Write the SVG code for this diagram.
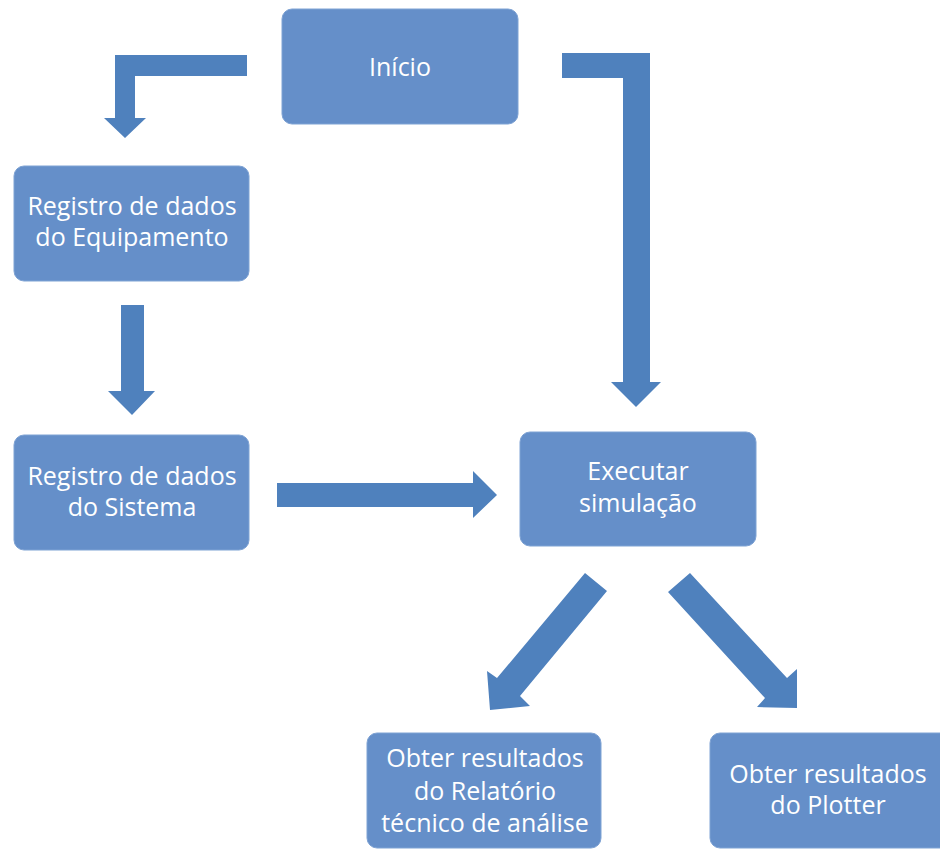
<svg xmlns="http://www.w3.org/2000/svg" width="940" height="849" viewBox="0 0 940 849">
  <style>
    .box { fill: #658FC9; stroke: #7FA3D4; stroke-width: 1; }
    .arrow { fill: #4F81BD; }
    .label { font-family: "Open Sans", "Liberation Sans", sans-serif; font-size: 25px; fill: #FFFFFF; text-anchor: middle; }
  </style>
  <rect width="940" height="849" fill="#FFFFFF"/>

  <!-- block arrows -->
  <g id="connectors">
    <polygon class="arrow" points="247,55 247,76 135,76 135,118 146,118 125,138 104,118 115,118 115,55"/>
    <polygon class="arrow" points="562,53 650,53 650,382 661,382 636,407 611,382 623,382 623,78 562,78"/>
    <polygon class="arrow" points="121,305 144,305 144,391 155,391 132,415 108,391 121,391"/>
    <polygon class="arrow" points="277,483 473,483 473,471 497,495 473,518 473,507 277,507"/>
    <polygon class="arrow" points="585,573 607,591 520,696 530,706 490,710 487,671 497,678"/>
    <polygon class="arrow" points="690,573 787,678 797,669 797,708 757,707 765,698 668,592"/>
  </g>

  <g id="inicio">
    <rect class="box" x="282" y="9" width="236" height="115" rx="10"/>
    <text class="label" x="400" y="76">Início</text>
  </g>

  <g id="registro-equipamento">
    <rect class="box" x="14" y="166" width="235" height="115" rx="10"/>
    <text class="label" x="132" y="215">Registro de dados</text>
    <text class="label" x="132" y="246">do Equipamento</text>
  </g>

  <g id="registro-sistema">
    <rect class="box" x="14" y="435" width="235" height="115" rx="10"/>
    <text class="label" x="132" y="485">Registro de dados</text>
    <text class="label" x="132" y="516">do Sistema</text>
  </g>

  <g id="executar-simulacao">
    <rect class="box" x="520" y="432" width="236" height="114" rx="10"/>
    <text class="label" x="638" y="480">Executar</text>
    <text class="label" x="638" y="512">simulação</text>
  </g>

  <g id="resultados-relatorio">
    <rect class="box" x="367" y="733" width="234" height="115" rx="10"/>
    <text class="label" x="485" y="767">Obter resultados</text>
    <text class="label" x="485" y="800">do Relatório</text>
    <text class="label" x="485" y="832">técnico de análise</text>
  </g>

  <g id="resultados-plotter">
    <rect class="box" x="710" y="733" width="240" height="115" rx="10"/>
    <text class="label" x="828" y="783">Obter resultados</text>
    <text class="label" x="828" y="814">do Plotter</text>
  </g>
</svg>
